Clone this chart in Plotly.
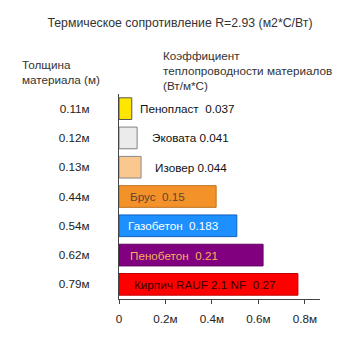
import plotly.graph_objects as go

# ---- data ----
materials = ["Пенопласт", "Эковата", "Изовер", "Брус", "Газобетон", "Пенобетон", "Кирпич RAUF 2.1 NF"]
conductivity = ["0.037", "0.041", "0.044", "0.15", "0.183", "0.21", "0.27"]
thickness_labels = ["0.11м", "0.12м", "0.13м", "0.44м", "0.54м", "0.62м", "0.79м"]
bar_values = [0.055, 0.078, 0.095, 0.418, 0.507, 0.62, 0.77]
x_tickvals = [0, 0.2, 0.4, 0.6, 0.8]
x_ticktext = ["0", "0.2м", "0.4м", "0.6м", "0.8м"]
title_text = "Термическое сопротивление R=2.93 (м2*С/Вт)"
left_header = "Толщина<br>материала (м)"
right_header = "Коэффициент<br>теплопроводности материалов<br>(Вт/м*С)"

# ---- styles ----
bar_colors = ["#FFE600", "#EBEBEB", "#FAC88E", "#F39229", "#1E8FFF", "#800080", "#FF0000"]
bar_lines = ["#555555", "#808080", "#8a8a8a", "#C0701A", "#1060C0", "#600060", "#C00000"]
label_colors = ["#111111", "#111111", "#111111", "#5E4630", "#FFFFFF", "#F2B35A", "#3A0000"]
label_inside = [False, False, False, True, True, True, True]
label_shift = [6, 13, 12, 9, 7, 9, 13]

W, H = 337, 337
L, R, T, B = 119, 17, 94, 19
XMAX = 0.865
FONT = "Liberation Sans, Arial, sans-serif"
FS = 11.7


def px_x(p):
    return (p - L) / (W - L - R)


def px_y(p):
    return 1 - (p - T) / (H - T - B)


fig = go.Figure()
fig.add_trace(go.Bar(
    y=materials, x=bar_values, orientation="h",
    marker=dict(color=bar_colors, line=dict(color=bar_lines, width=1)),
    hoverinfo="skip",
))

for m, c, v, col, ins, sh in zip(materials, conductivity, bar_values, label_colors, label_inside, label_shift):
    fig.add_annotation(
        x=0 if ins else v, y=m, xref="x", yref="y",
        text=f"{m}\u00a0\u00a0{c}" if ins or m == "Пенопласт" else f"{m} {c}",
        showarrow=False, xanchor="left", yanchor="middle", xshift=sh,
        font=dict(family=FONT, size=FS, color=col),
    )

fig.add_annotation(
    xref="paper", yref="paper", x=px_x(20), y=px_y(70), text=left_header,
    showarrow=False, xanchor="left", yanchor="middle", align="left",
    font=dict(family=FONT, size=FS, color="#333333"),
)
fig.add_annotation(
    xref="paper", yref="paper", x=px_x(161), y=px_y(68.5), text=right_header,
    showarrow=False, xanchor="left", yanchor="middle", align="left",
    font=dict(family=FONT, size=FS, color="#333333"),
)

fig.update_layout(
    width=W, height=H,
    margin=dict(l=L, r=R, t=T, b=B, pad=0),
    paper_bgcolor="white", plot_bgcolor="white",
    showlegend=False,
    bargap=0.26,
    font=dict(family=FONT, size=FS, color="#222222"),
    title=dict(text=title_text, xref="container", yref="container",
               x=180 / W, y=1 - 23 / H, xanchor="center", yanchor="middle",
               font=dict(family=FONT, size=12.3, color="#333333")),
    xaxis=dict(range=[0, XMAX], tickvals=x_tickvals, ticktext=x_ticktext,
               showgrid=False, zeroline=False, showline=True, linecolor="#444444",
               linewidth=1, ticks="outside", ticklen=4, tickcolor="#444444",
               ticklabelstandoff=5,
               tickfont=dict(family=FONT, size=FS, color="#222222"), fixedrange=True),
    yaxis=dict(autorange="reversed", tickvals=materials, ticktext=thickness_labels,
               showgrid=False, zeroline=False, showline=True, linecolor="#444444",
               linewidth=1, ticks="", ticklabelstandoff=26,
               tickfont=dict(family=FONT, size=FS, color="#222222"), fixedrange=True),
)

fig.write_html("out.html")
